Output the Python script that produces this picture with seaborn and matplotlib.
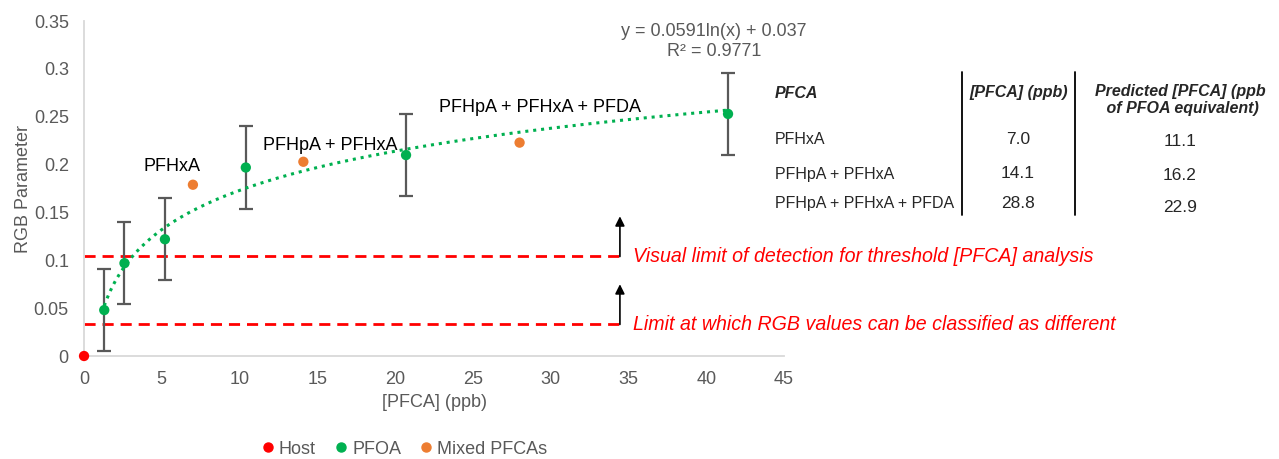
import matplotlib.pyplot as plt
import numpy as np
import pandas as pd
import seaborn as sns
from matplotlib.lines import Line2D

# data
host_x = [0.0]
host_y = [0.0]
pfoa_x = [1.3, 2.6, 5.2, 10.4, 20.7, 41.4]
pfoa_y = [0.048, 0.097, 0.122, 0.197, 0.210, 0.253]
pfoa_err = [0.043, 0.043, 0.043, 0.043, 0.043, 0.043]
mixed_x = [7.0, 14.1, 28.0]
mixed_y = [0.179, 0.203, 0.223]
mixed_labels = ['PFHxA', 'PFHpA + PFHxA', 'PFHpA + PFHxA + PFDA']

# log fit reported on the chart
fit_a = 0.0591
fit_b = 0.037
fit_r2 = 0.9771

lod_visual = 0.104
lod_rgb = 0.033

table_pfca = ['PFHxA', 'PFHpA + PFHxA', 'PFHpA + PFHxA + PFDA']
table_conc = ['7.0', '14.1', '28.8']
table_pred = ['11.1', '16.2', '22.9']

df = pd.DataFrame({
    'x': host_x + pfoa_x + mixed_x,
    'y': host_y + pfoa_y + mixed_y,
    'group': ['Host'] * len(host_x) + ['PFOA'] * len(pfoa_x) + ['Mixed PFCAs'] * len(mixed_x),
})
palette = {'Host': '#ff0000', 'PFOA': '#00b050', 'Mixed PFCAs': '#ed7d31'}

sns.set_theme(style='white')
plt.rcParams['font.family'] = ['Liberation Sans', 'DejaVu Sans']
grey = '#595959'

fig = plt.figure(figsize=(12.79, 4.59), dpi=100)
ax = fig.add_axes([0.0657, 0.2244, 0.5473, 0.7296])

# error bars
ax.errorbar(pfoa_x, pfoa_y, yerr=pfoa_err, fmt='none', ecolor='#595959',
            elinewidth=1.6, capsize=5, capthick=1.6, zorder=2)

# trend line
xx = np.linspace(min(pfoa_x), max(pfoa_x), 300)
ax.plot(xx, fit_a * np.log(xx) + fit_b, color='#00b050', lw=2.2,
        linestyle=(0, (1, 1.6)), zorder=3)

# limit lines
line_end = 34.45
ax.plot([0, line_end], [lod_visual, lod_visual], color='#ff0000', lw=2, linestyle=(0, (4, 2.5)), zorder=1)
ax.plot([0, line_end], [lod_rgb, lod_rgb], color='#ff0000', lw=2, linestyle=(0, (4, 2.5)), zorder=1)
for yv in [lod_visual, lod_rgb]:
    ax.annotate('', xy=(line_end, yv + 0.042), xytext=(line_end, yv), annotation_clip=False,
                arrowprops=dict(arrowstyle='-|>', color='black', lw=1.2, mutation_scale=14,
                                shrinkA=0, shrinkB=0))
ax.text(35.3, lod_visual, 'Visual limit of detection for threshold [PFCA] analysis',
        color='#ff0000', style='italic', fontsize=14.1, va='center', ha='left', clip_on=False)
ax.text(35.3, lod_rgb, 'Limit at which RGB values can be classified as different',
        color='#ff0000', style='italic', fontsize=14.1, va='center', ha='left', clip_on=False)

sns.scatterplot(data=df, x='x', y='y', hue='group', palette=palette, s=55,
                edgecolor='none', ax=ax, legend=False, zorder=4, clip_on=False)

# labels over mixed points
label_off = [(-1.35, 0.019), (1.7, 0.017), (1.3, 0.037)]
for xv, yv, lab, (dx, dy) in zip(mixed_x, mixed_y, mixed_labels, label_off):
    ax.text(xv + dx, yv + dy, lab, fontsize=13, ha='center', va='center', color='black')

ax.text(40.5, 0.339, f'y = {fit_a}ln(x) + {fit_b}', fontsize=13, color=grey, ha='center',
        va='center', clip_on=False)
ax.text(40.5, 0.318, f'R² = {fit_r2}', fontsize=13, color=grey, ha='center', va='center',
        clip_on=False)

ax.set_xlim(0, 45)
ax.set_ylim(0, 0.35)
ax.set_xticks(range(0, 46, 5))
ax.set_yticks([0, 0.05, 0.1, 0.15, 0.2, 0.25, 0.3, 0.35])
ax.set_yticklabels(['0', '0.05', '0.1', '0.15', '0.2', '0.25', '0.3', '0.35'])
ax.tick_params(axis='both', colors=grey, labelsize=13, length=0)
ax.tick_params(axis='y', pad=11)
ax.tick_params(axis='x', pad=11)
ax.set_xlabel('[PFCA] (ppb)', color=grey, fontsize=13, labelpad=4)
ax.set_ylabel('RGB Parameter', color=grey, fontsize=13, labelpad=1)
for s in ['top', 'right']:
    ax.spines[s].set_visible(False)
for s in ['left', 'bottom']:
    ax.spines[s].set_color('#d9d9d9')
    ax.spines[s].set_linewidth(1.3)

# legend
handles = [Line2D([], [], marker='o', linestyle='none', color=palette[g], markersize=6.5, label=g)
           for g in ['Host', 'PFOA', 'Mixed PFCAs']]
leg = fig.legend(handles=handles, loc='center', bbox_to_anchor=(405 / 1279, 1 - 449 / 459),
                 ncol=3, frameon=False, fontsize=13, handlelength=0.6, handletextpad=0.3,
                 columnspacing=1.1)
for t in leg.get_texts():
    t.set_color(grey)

# side table
W, H = 1279, 459
def fx(px):
    return px / W
def fy(py):
    return 1 - py / H

fig.text(fx(775), fy(93), 'PFCA', fontsize=11.5, weight='bold', style='italic', va='center')
fig.text(fx(1019), fy(93), '[PFCA] (ppb)', fontsize=11.5, weight='bold', style='italic',
         va='center', ha='center')
fig.text(fx(1180), fy(100), 'Predicted [PFCA] (ppb\n of PFOA equivalent)', fontsize=11.5,
         weight='bold', style='italic', va='center', ha='center', linespacing=1.1)
row_y = [140, 174, 203]
pred_y = [142, 176, 208]
for name, c, p, ry, py in zip(table_pfca, table_conc, table_pred, row_y, pred_y):
    fig.text(fx(775), fy(ry), name, fontsize=11.5, va='center')
    fig.text(fx(1018), fy(ry), c, fontsize=12.5, va='center', ha='center')
    fig.text(fx(1180), fy(py), p, fontsize=12.5, va='center', ha='center')
for vx in [962, 1075]:
    fig.add_artist(Line2D([fx(vx), fx(vx)], [fy(72), fy(215)], color='black', lw=1.3))

fig.savefig('out.png', dpi=100)
